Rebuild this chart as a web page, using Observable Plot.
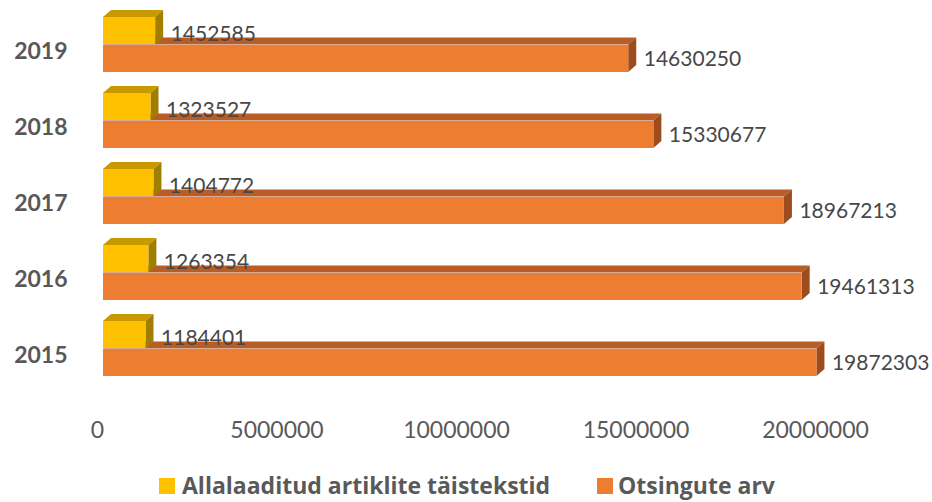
<!DOCTYPE html>
<html><head><meta charset="utf-8">
<script src="https://cdn.jsdelivr.net/npm/d3@7"></script>
<script src="https://cdn.jsdelivr.net/npm/@observablehq/plot@0.6"></script>
<style>
body{margin:0;background:#fff;}
#wrap{position:relative;width:932px;height:502px;font-family:Lato,sans-serif;}
.sw{position:absolute;width:16px;height:16px;top:478px;}
.lt{position:absolute;top:470px;line-height:30px;font-family:"Open Sans",sans-serif;font-size:23px;font-weight:bold;color:#595959;white-space:nowrap;}
</style></head><body>
<div id="wrap"><div id="chart"></div></div>
<script>
const years = ["2019", "2018", "2017", "2016", "2015"];
const downloads = [1452585, 1323527, 1404772, 1263354, 1184401];
const searches = [14630250, 15330677, 18967213, 19461313, 19872303];
const xTicks = [0, 5000000, 10000000, 15000000, 20000000];
const seriesNames = ["Allalaaditud artiklite täistekstid", "Otsingute arv"];

const yellow = {front: "#FFC000", top: "#C99A00", side: "#A07E00"};
const orange = {front: "#ED7D31", top: "#B95D27", side: "#9C4C1D"};
const DX = 8, DY = 7;

const rows = years.map((year, i) => ({year, downloads: downloads[i], searches: searches[i]}));

function faces(key, col, lower) {
  return (index, scales) => {
    const {x, y} = scales;
    const bw = typeof y.bandwidth === "function" ? y.bandwidth() : y.bandwidth;
    const g = d3.create("svg:g");
    for (const d of rows) {
      const x0 = x(0), x1 = x(d[key]);
      const T = y(d.year) + (lower ? bw / 2 : 0), B = T + bw / 2;
      g.append("path").attr("fill", col.top)
        .attr("d", `M${x0},${T}L${x1},${T}L${x1 + DX},${T - DY}L${x0 + DX},${T - DY}Z`);
      g.append("path").attr("fill", col.side)
        .attr("d", `M${x1},${T}L${x1 + DX},${T - DY}L${x1 + DX},${B - DY}L${x1},${B}Z`);
    }
    return g.node();
  };
}

const chart = Plot.plot({
  width: 932,
  height: 460,
  marginLeft: 103,
  marginRight: 111,
  marginTop: 5,
  marginBottom: 71,
  style: {fontFamily: "Lato, sans-serif", fontSize: "23px", color: "#595959", background: "#fff"},
  x: {domain: [0, 20000000], axis: null},
  y: {domain: years, paddingInner: 0.2727, paddingOuter: 0.1364, axis: null},
  marks: [
    faces("searches", orange, true),
    faces("downloads", yellow, false),
    Plot.barX(rows, {x: "searches", y: "year", insetTop: 28, fill: orange.front}),
    Plot.barX(rows, {x: "downloads", y: "year", insetBottom: 28, fill: yellow.front}),
    Plot.text(rows, {x: "downloads", y: "year", text: d => String(d.downloads), textAnchor: "start", dx: 15, dy: -11, fontSize: 21, fill: "#474747"}),
    Plot.text(rows, {x: "searches", y: "year", text: d => String(d.searches), textAnchor: "start", dx: 15, dy: 14, fontSize: 21, fill: "#474747"}),
    Plot.text(rows, {y: "year", text: "year", frameAnchor: "left", textAnchor: "end", dx: -36, dy: 7, fontSize: 23, fontWeight: "bold", fill: "#595959"}),
    Plot.axisX(xTicks, {anchor: "bottom", tickSize: 0, tickPadding: 32, dx: -6, tickFormat: d3.format("d"), fontSize: 23})
  ]
});
document.getElementById("chart").appendChild(chart);

const wrap = document.getElementById("wrap");
const legendPos = [{sq: 159, tx: 182}, {sq: 597, tx: 618}];
[yellow.front, orange.front].forEach((c, i) => {
  const s = document.createElement("div");
  s.className = "sw"; s.style.left = legendPos[i].sq + "px"; s.style.background = c;
  const t = document.createElement("div");
  t.className = "lt"; t.style.left = legendPos[i].tx + "px"; t.textContent = seriesNames[i];
  wrap.appendChild(s); wrap.appendChild(t);
});
</script>
</body></html>
